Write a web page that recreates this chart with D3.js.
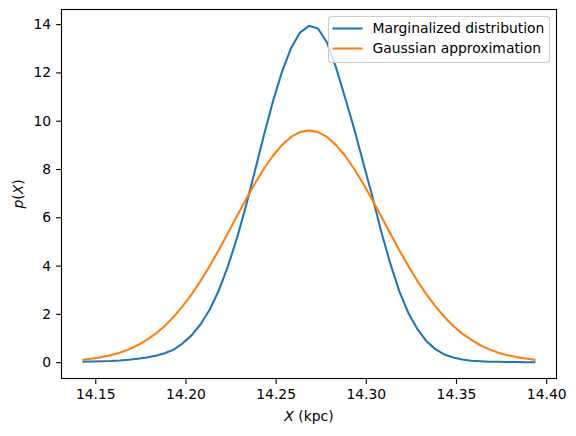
<!DOCTYPE html>
<html>
<head>
<meta charset="utf-8">
<script src="https://cdn.jsdelivr.net/npm/d3@7"></script>
<style>
  body { margin: 0; background: #fff; }
  text { font-family: "DejaVu Sans", sans-serif; fill: #000; }
</style>
</head>
<body>
<div id="chart"></div>
<script>
// Data
const xStart = 14.1435
const xStep = 0.005
const marginalized = [
  0.02, 0.03, 0.04, 0.05, 0.07, 0.10, 0.14, 0.19, 0.27, 0.37,
  0.52, 0.78, 1.12, 1.58, 2.18, 2.97, 3.96, 5.12, 6.46, 7.92,
  9.40, 10.80, 12.02, 13.00, 13.65, 13.93, 13.82, 13.24, 12.20, 10.95,
  9.68, 8.28, 6.90, 5.42, 4.10, 2.95, 2.05, 1.38, 0.88, 0.54,
  0.32, 0.19, 0.11, 0.06, 0.04, 0.02, 0.02, 0.01, 0.01, 0.00, 0.00
]
const gaussian = [
  0.10, 0.15, 0.21, 0.29, 0.39, 0.53, 0.70, 0.92, 1.18, 1.50,
  1.88, 2.32, 2.82, 3.38, 3.99, 4.65, 5.34, 6.04, 6.74, 7.40,
  8.01, 8.55, 8.99, 9.33, 9.53, 9.60, 9.53, 9.33, 8.99, 8.55,
  8.01, 7.40, 6.74, 6.04, 5.34, 4.65, 3.99, 3.38, 2.82, 2.32,
  1.88, 1.50, 1.18, 0.92, 0.70, 0.53, 0.39, 0.29, 0.21, 0.15, 0.10
]
const xTicks = [14.15, 14.20, 14.25, 14.30, 14.35, 14.40]
const yTicks = [0, 2, 4, 6, 8, 10, 12, 14]
const seriesNames = ['Marginalized distribution', 'Gaussian approximation']

const xs = marginalized.map((d, i) => xStart + i * xStep)

// Dimensions
const dimensions = {
  width: 576,
  height: 436,
  left: 61,
  right: 557,
  top: 9,
  bottom: 379,
}
const fontSize = 13.9

const svg = d3.select('#chart')
  .append('svg')
  .attr('width', dimensions.width)
  .attr('height', dimensions.height)

// Scales
const xScale = d3.scaleLinear()
  .domain([14.131, 14.406])
  .range([dimensions.left, dimensions.right])

const yScale = d3.scaleLinear()
  .domain([-0.697, 14.627])
  .range([dimensions.bottom, dimensions.top])

const colors = ['#1f77b4', '#ff7f0e']

// Lines
const line = d3.line()
  .x(d => xScale(d[0]))
  .y(d => yScale(d[1]))

const series = [marginalized, gaussian].map(vals => vals.map((v, i) => [xs[i], v]))

svg.append('g')
  .selectAll('path')
  .data(series)
  .join('path')
  .attr('d', line)
  .attr('fill', 'none')
  .attr('stroke', (d, i) => colors[i])
  .attr('stroke-width', 2.08)
  .attr('stroke-linejoin', 'round')
  .attr('stroke-linecap', 'square')

// Axes
const xAxis = d3.axisBottom(xScale)
  .tickValues(xTicks)
  .tickFormat(d3.format('.2f'))
  .tickSizeOuter(0)
  .tickSize(4.9)
  .tickPadding(4.9)

const yAxis = d3.axisLeft(yScale)
  .tickValues(yTicks)
  .tickFormat(d3.format('d'))
  .tickSizeOuter(0)
  .tickSize(4.9)
  .tickPadding(4.9)

const xAxisGroup = svg.append('g')
  .attr('transform', `translate(0, ${dimensions.bottom})`)
  .call(xAxis)

const yAxisGroup = svg.append('g')
  .attr('transform', `translate(${dimensions.left}, 0)`)
  .call(yAxis)

;[xAxisGroup, yAxisGroup].forEach(g => {
  g.select('.domain').remove()
  g.selectAll('text')
    .attr('font-family', '"DejaVu Sans", sans-serif')
    .attr('font-size', fontSize)
    .attr('fill', '#000')
  g.selectAll('line').attr('stroke', '#000').attr('stroke-width', 1.1)
})

// Frame
svg.append('rect')
  .attr('x', dimensions.left + 0.5)
  .attr('y', dimensions.top + 0.5)
  .attr('width', dimensions.right - dimensions.left - 1)
  .attr('height', dimensions.bottom - dimensions.top - 1)
  .attr('fill', 'none')
  .attr('stroke', '#000')
  .attr('stroke-width', 1.1)

// Labels
const xLabel = svg.append('text')
  .attr('x', (dimensions.left + dimensions.right) / 2)
  .attr('y', 421)
  .attr('text-anchor', 'middle')
  .attr('font-size', fontSize)
xLabel.append('tspan').attr('font-style', 'italic').text('X')
xLabel.append('tspan').text(' (kpc)')

const yLabel = svg.append('text')
  .attr('transform', `translate(23, ${(dimensions.top + dimensions.bottom) / 2}) rotate(-90)`)
  .attr('text-anchor', 'middle')
  .attr('font-size', fontSize)
yLabel.append('tspan').attr('font-style', 'italic').text('p')
yLabel.append('tspan').text('(')
yLabel.append('tspan').attr('font-style', 'italic').text('X')
yLabel.append('tspan').text(')')

// Legend
const legend = svg.append('g')
  .attr('transform', 'translate(328.5, 16.5)')

legend.append('rect')
  .attr('width', 221)
  .attr('height', 46)
  .attr('rx', 3)
  .attr('fill', '#fff')
  .attr('fill-opacity', 0.8)
  .attr('stroke', '#cccccc')
  .attr('stroke-width', 1.1)

const entries = legend.selectAll('g.entry')
  .data(seriesNames)
  .join('g')
  .attr('class', 'entry')
  .attr('transform', (d, i) => `translate(0, ${12 + i * 20})`)

entries.append('line')
  .attr('x1', 4)
  .attr('x2', 34)
  .attr('stroke', (d, i) => colors[i])
  .attr('stroke-width', 2.08)

entries.append('text')
  .attr('x', 44)
  .attr('dy', '0.35em')
  .attr('font-size', fontSize)
  .text(d => d)
</script>
</body>
</html>
